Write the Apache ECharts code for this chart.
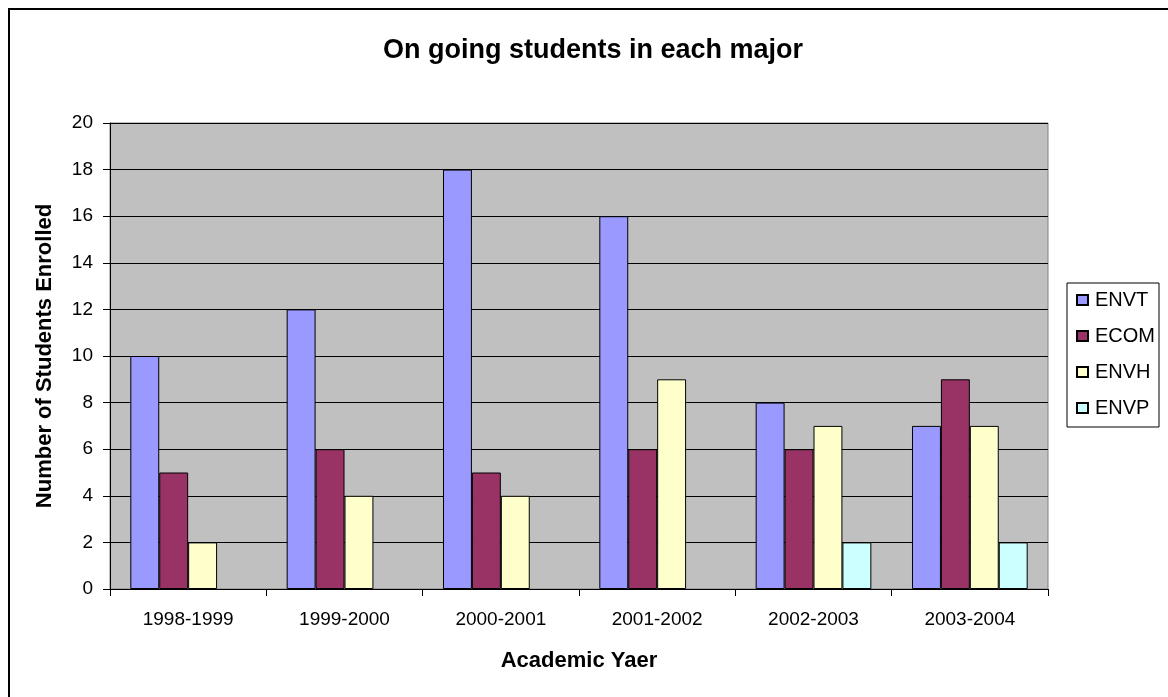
<!DOCTYPE html>
<html>
<head>
<meta charset="utf-8">
<script src="https://cdn.jsdelivr.net/npm/echarts@6/dist/echarts.min.js"></script>
<style>
html,body{margin:0;padding:0;background:#fff;}
#chart{width:1168px;height:697px;}
</style>
</head>
<body>
<div id="chart"></div>
<script>
const categories = ['1998-1999','1999-2000','2000-2001','2001-2002','2002-2003','2003-2004'];
const seriesNames = ['ENVT','ECOM','ENVH','ENVP'];
const envt = [10, 12, 18, 16, 8, 7];
const ecom = [5, 6, 5, 6, 6, 9];
const envh = [2, 4, 4, 9, 7, 7];
const envp = [null, null, null, null, 2, 2];
const yTicks = [0, 2, 4, 6, 8, 10, 12, 14, 16, 18, 20];

const colors = ['#9999FF', '#993366', '#FFFFCC', '#CCFFFF'];
const values = [envt, ecom, envh, envp];
const FONT = '"Liberation Sans", Arial, sans-serif';

const chart = echarts.init(document.getElementById('chart'), null, {renderer: 'canvas'});
chart.setOption({
  animation: false,
  backgroundColor: '#ffffff',
  title: {
    text: 'On going students in each major',
    left: 593, top: 37, textAlign: 'center', padding: 0,
    textStyle: {fontFamily: FONT, fontSize: 27, fontWeight: 'bold', color: '#000'}
  },
  graphic: [{
    type: 'rect', silent: true,
    shape: {x: 9, y: 9, width: 1200, height: 720},
    style: {fill: 'none', stroke: '#000', lineWidth: 2}
  }],
  legend: {
    orient: 'vertical',
    left: 1067, top: 283,
    padding: [7, 4, 9, 9],
    itemGap: 16,
    itemWidth: 11, itemHeight: 10,
    icon: 'rect',
    borderColor: '#000', borderWidth: 1,
    backgroundColor: '#fff',
    textStyle: {fontFamily: FONT, fontSize: 20, color: '#000', padding: [0, 0, 0, 2]},
    data: seriesNames
  },
  grid: {
    left: 110, right: 120, top: 123, bottom: 108,
    show: true, backgroundColor: '#C0C0C0', borderColor: '#808080', borderWidth: 1,
    containLabel: false
  },
  xAxis: {
    type: 'category',
    data: categories,
    name: 'Academic Yaer',
    nameLocation: 'middle',
    nameGap: 61,
    nameTextStyle: {fontFamily: FONT, fontSize: 22, fontWeight: 'bold', color: '#000'},
    axisLine: {show: true, lineStyle: {color: '#000', width: 1}},
    axisTick: {show: true, length: 7, lineStyle: {color: '#000'}},
    axisLabel: {fontFamily: FONT, fontSize: 19, color: '#000', margin: 21},
    splitLine: {show: false}
  },
  yAxis: {
    type: 'value',
    min: 0, max: 20, interval: 2,
    name: 'Number of Students Enrolled',
    nameLocation: 'middle',
    nameGap: 54,
    nameTextStyle: {fontFamily: FONT, fontSize: 22, fontWeight: 'bold', color: '#000'},
    axisLine: {show: true, lineStyle: {color: '#000', width: 1}},
    axisTick: {show: true, length: 7, lineStyle: {color: '#000'}},
    axisLabel: {fontFamily: FONT, fontSize: 19, color: '#000', margin: 17,
      formatter: function (v) { return yTicks.indexOf(v) >= 0 ? String(v) : ''; }},
    splitLine: {show: true, lineStyle: {color: '#000', width: 1}}
  },
  series: seriesNames.map(function (name, i) {
    return {
      name: name,
      type: 'bar',
      data: values[i],
      barGap: '0%',
      barCategoryGap: '26%',
      itemStyle: {color: colors[i], borderColor: '#000', borderWidth: 1}
    };
  })
});
</script>
</body>
</html>
